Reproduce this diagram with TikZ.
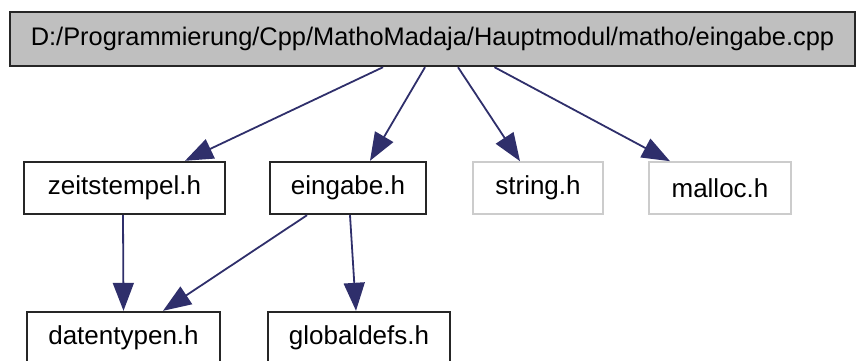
\documentclass[tikz,border=0pt]{standalone}
\usepackage{fontspec}
\setmainfont{Liberation Sans}
\usetikzlibrary{arrows.meta}
\definecolor{edgeblue}{HTML}{2F2F6B}
\definecolor{boxgray}{HTML}{BFBFBF}
\tikzset{
  file/.style={draw=black!85,line width=2.4pt,fill=white,minimum height=52pt,inner sep=0pt,font=\fontsize{26}{30}\selectfont},
  extfile/.style={file,draw=boxgray!80!white,line width=1.6pt},
  dep/.style={draw=edgeblue,line width=1.8pt,-{Triangle[length=28pt,width=21pt]}}
}
\begin{document}
\begin{tikzpicture}[x=1pt,y=-1pt]
\useasboundingbox (0,0) rectangle (861,360);
\node[file,fill=boxgray,minimum width=845pt,minimum height=54pt,font=\fontsize{25.4}{30}\selectfont] (main) at (432.5,39) {D:/Programmierung/Cpp/MathoMadaja/Hauptmodul/matho/eingabe.cpp};
\node[file,minimum width=201pt] (zeit) at (124.5,188) {zeitstempel.h};
\node[file,minimum width=156pt] (eing) at (348,188) {eingabe.h};
\node[extfile,minimum width=130pt] (str) at (538,188) {string.h};
\node[extfile,minimum width=142pt] (mall) at (720,188) {malloc.h};
\node[file,minimum width=193pt] (daten) at (123.5,338) {datentypen.h};
\node[file,minimum width=182pt] (glob) at (359,338) {globaldefs.h};
\draw[dep] ([xshift=-49.5pt]main.south) -- ([xshift=60.5pt]zeit.north);
\draw[dep] ([xshift=-7.5pt]main.south) -- ([xshift=22pt]eing.north);
\draw[dep] ([xshift=25.5pt]main.south) -- ([xshift=-18pt]str.north);
\draw[dep] ([xshift=62pt]main.south) -- ([xshift=-50pt]mall.north);
\draw[dep] ([xshift=-1.5pt]zeit.south) -- (daten.north);
\draw[dep] ([xshift=-41pt]eing.south) -- ([xshift=39.5pt]daten.north);
\draw[dep] ([xshift=2pt]eing.south) -- ([xshift=-3pt]glob.north);
\end{tikzpicture}
\end{document}
